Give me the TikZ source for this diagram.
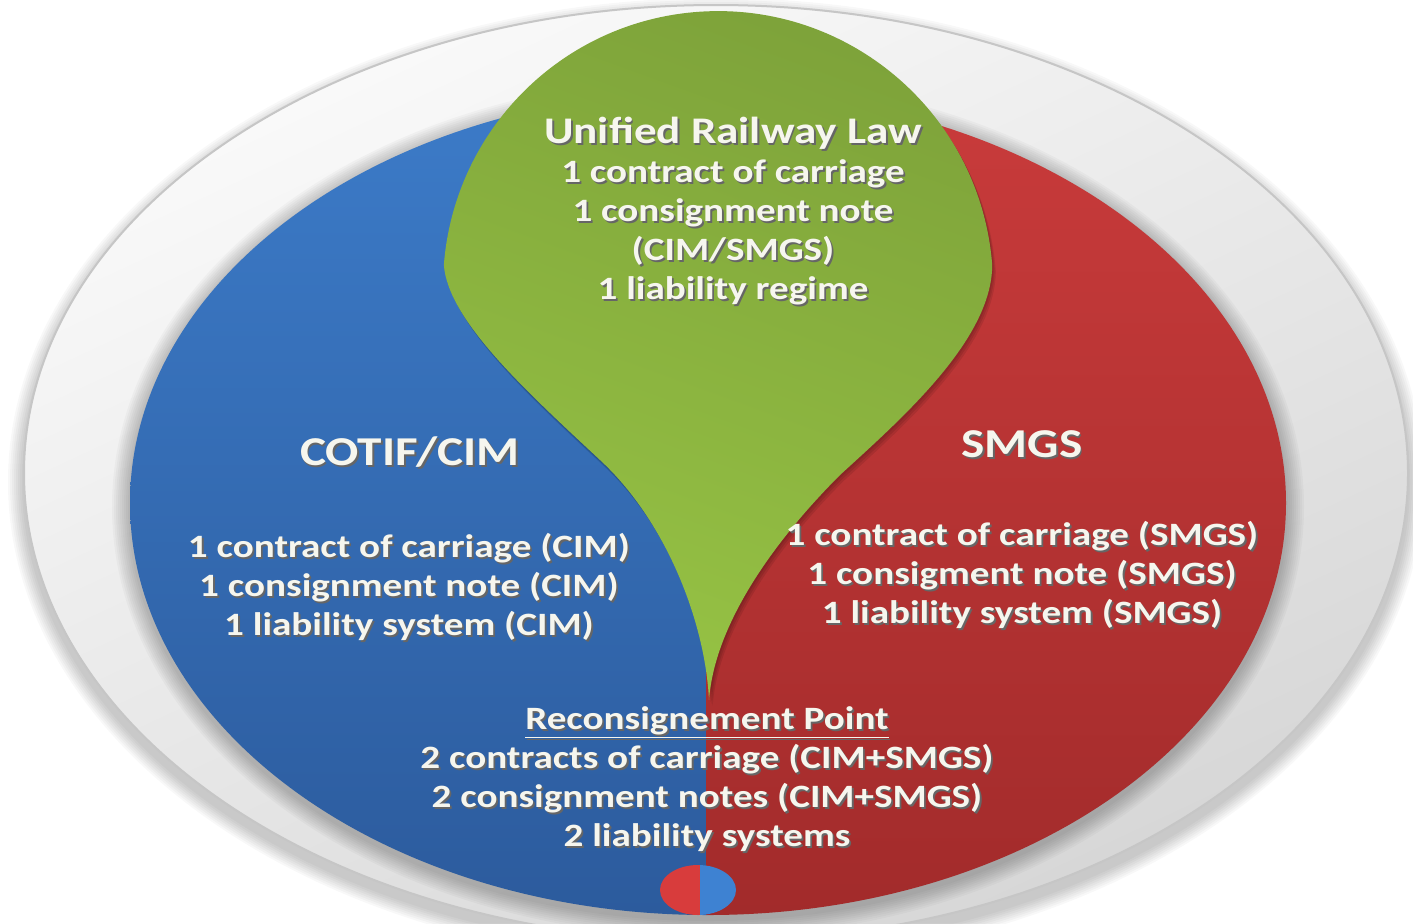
\documentclass[tikz,border=0pt]{standalone}
\usepackage{fontspec}
\setmainfont{Carlito}[FakeStretch=1.2]

\definecolor{cimBlue}{HTML}{3C7BC8}
\definecolor{cimBlueDark}{HTML}{2C5B9D}
\definecolor{smgsRed}{HTML}{C93B3B}
\definecolor{smgsRedDark}{HTML}{A22B2B}
\definecolor{lawGreen}{HTML}{7EA33A}
\definecolor{lawGreenLight}{HTML}{96C244}
\definecolor{labelWhite}{HTML}{F6F6EE}
\definecolor{discRed}{HTML}{D83C3C}
\definecolor{discBlue}{HTML}{3E82D2}

\newcommand{\bodyFont}{\fontsize{16.3}{19.5}\selectfont\bfseries}
\newcommand{\headFont}{\fontsize{18.8}{22}\selectfont\bfseries}
\newcommand{\sideFont}{\fontsize{20.5}{24}\selectfont\bfseries}
\newcommand{\txtShadow}[1]{\rlap{\kern0.9pt\raisebox{-0.9pt}{\color{black!60}#1}}#1}
\newcommand{\dropPath}{(992.2,-265) arc[start angle=4.4, end angle=175.6, radius=275]
  .. controls (448,-320) and (525,-390) .. (600,-460)
  .. controls (665,-520) and (705,-620) .. (709,-700)
  .. controls (715,-620) and (780,-535) .. (840,-475)
  .. controls (900,-420) and (992,-340) .. cycle}

\begin{document}
\begin{tikzpicture}
[x=0.5pt, y=0.5pt,
  labelDecorate/.style={text=labelWhite, align=center, font=\bodyFont, inner sep=0pt},
  headDecorate/.style={labelDecorate, font=\sideFont},
  ringDecorate/.style={black, opacity=0.028}]
\useasboundingbox (0,0) rectangle (1413,-923);
\fill[white] (0,0) rectangle (1413,-923);
%% outer plate with its soft shadow
\foreach \d in {16,14,...,2}
  {\fill[ringDecorate] (716,-482) ellipse [x radius=692+\d, y radius=468+\d];}
\shade[top color=gray!4, bottom color=gray!32, shading angle=25]
  (716,-473) ellipse [x radius=692, y radius=468];
\draw[gray!45, line width=1] (716,-473) ellipse [x radius=692, y radius=468];
%% shadow round the coloured plate
\foreach \d in {18,16,...,2}
  {\fill[ringDecorate] (708,-507) ellipse [x radius=578+\d, y radius=412+\d];}
%% blue and red halves
\begin{scope}
  \clip (0,0) rectangle (706,-923);
  \shade[top color=cimBlue, bottom color=cimBlueDark]
    (708,-503) ellipse [x radius=578, y radius=412];
\end{scope}
\begin{scope}
  \clip (706,0) rectangle (1413,-923);
  \shade[top color=smgsRed, bottom color=smgsRedDark]
    (708,-503) ellipse [x radius=578, y radius=412];
\end{scope}
%% green drop
\foreach \s in {2,4,6}
{
  \begin{scope}[shift={(\s*0.6,-\s)}]
    \fill[black, opacity=0.09] \dropPath;
  \end{scope}
}
\shade[top color=lawGreen, bottom color=lawGreenLight, shading angle=-20] \dropPath;
%% small split disc
\begin{scope}
  \clip (0,0) rectangle (700,-923);
  \fill[discRed] (698,-890) ellipse [x radius=38, y radius=25];
\end{scope}
\begin{scope}
  \clip (700,0) rectangle (1413,-923);
  \fill[discBlue] (698,-890) ellipse [x radius=38, y radius=25];
\end{scope}
%% labels
\node[labelDecorate] (law) at (733,-212)
  {{\headFont\txtShadow{Unified Railway Law}}\\ \txtShadow{1 contract of carriage}\\
   \txtShadow{1 consignment note}\\ \txtShadow{(CIM/SMGS)}\\ \txtShadow{1 liability regime}};
\node[headDecorate] (cotif) at (410,-453) {\txtShadow{COTIF/CIM}};
\node[labelDecorate] (cimlist) at (409,-588)
  {\txtShadow{1 contract of carriage (CIM)}\\ \txtShadow{1 consignment note (CIM)}\\
   \txtShadow{1 liability system (CIM)}};
\node[headDecorate] (smgs) at (1022,-445) {\txtShadow{SMGS}};
\node[labelDecorate] (smgslist) at (1022,-576)
  {\txtShadow{1 contract of carriage (SMGS)}\\ \txtShadow{1 consigment note (SMGS)}\\
   \txtShadow{1 liability system (SMGS)}};
\node[labelDecorate] (point) at (707,-780)
  {\txtShadow{\underline{Reconsignement Point}}\\ \txtShadow{2 contracts of carriage (CIM+SMGS)}\\
   \txtShadow{2 consignment notes (CIM+SMGS)}\\ \txtShadow{2 liability systems}};
\end{tikzpicture}
\end{document}
